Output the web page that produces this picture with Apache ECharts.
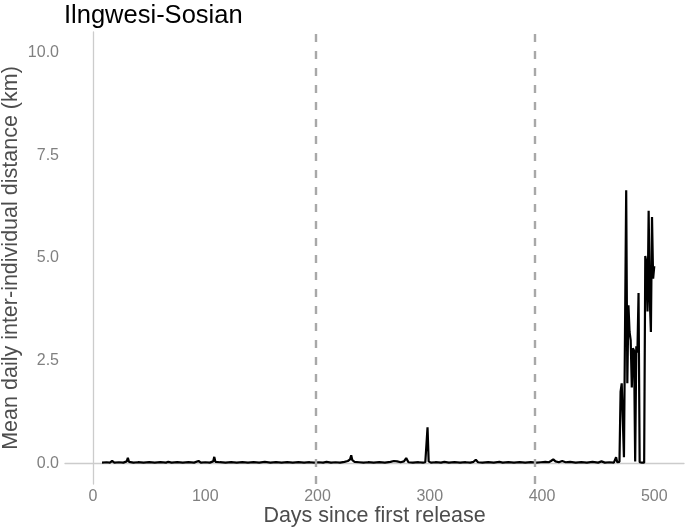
<!DOCTYPE html>
<html><head><meta charset="utf-8">
<script src="https://cdn.jsdelivr.net/npm/echarts@6/dist/echarts.min.js"></script>
<style>html,body{margin:0;padding:0;background:#fff}#c{width:685px;height:531px}</style>
</head><body><div id="c"></div>
<script>
const chartTitle = 'Ilngwesi-Sosian';
const xAxisTitle = 'Days since first release';
const yAxisTitle = 'Mean daily inter-individual distance (km)';

const days = [
  8,12,15,17,19,23,27,30,31,32,36,40,45,50,55,60,65,67,70,75,80,85,90,94,96,100,104,107,108,109,
  113,118,123,128,133,138,143,148,153,158,163,168,173,178,183,188,193,197,201,205,208,212,216,220,224,227,229,230,231,233,
  237,241,245,250,255,260,265,268,271,274,277,279,281,285,290,294,296,297,298,299,301,305,310,313,317,322,327,332,336,339,
  341,343,347,352,357,362,365,370,375,380,385,390,395,399,403,406,408,410,412,415,418,421,425,430,435,440,445,450,453,456,
  460,464,466,467,469,470,471,472,473,475,476,477,478,479,480,481,482,483,484,485,486,487,488,489,490,491,492,493,494,495,
  496,497,498,499,500
];
const distKm = [
  0.02,0.03,0.02,0.06,0.02,0.03,0.02,0.05,0.14,0.04,0.02,0.03,0.02,0.03,0.02,0.03,0.02,0.04,0.02,0.03,0.02,0.03,0.02,0.06,0.02,0.03,0.02,0.05,0.16,0.04,
  0.03,0.02,0.03,0.02,0.03,0.02,0.03,0.02,0.04,0.02,0.03,0.02,0.03,0.02,0.03,0.02,0.03,0.02,0.03,0.02,0.04,0.02,0.03,0.02,0.04,0.06,0.10,0.20,0.08,0.04,
  0.03,0.02,0.03,0.02,0.03,0.02,0.04,0.06,0.05,0.03,0.05,0.13,0.03,0.02,0.03,0.02,0.03,0.45,0.88,0.05,0.02,0.03,0.02,0.04,0.02,0.03,0.02,0.03,0.02,0.04,
  0.09,0.03,0.02,0.03,0.02,0.04,0.02,0.03,0.02,0.03,0.02,0.03,0.02,0.03,0.04,0.03,0.06,0.10,0.05,0.03,0.06,0.03,0.04,0.02,0.03,0.02,0.04,0.02,0.05,0.02,
  0.03,0.02,0.15,0.03,0.04,1.75,1.95,1.95,0.15,6.65,1.95,3.85,3.20,3.00,1.85,2.80,2.75,0.05,2.85,2.70,4.15,0.03,0.02,0.02,0.02,0.02,5.05,4.90,3.70,6.15,
  4.00,3.20,6.00,4.50,4.80
];
const releaseMarkers = [198.7, 393.4];
const xTicks = [0, 100, 200, 300, 400, 500];
const yTicks = [0, 2.5, 5, 7.5, 10];

const FONT = '"Liberation Sans", Arial, Helvetica, sans-serif';
const chart = echarts.init(document.getElementById('c'), null, {renderer: 'canvas'});
chart.setOption({
  animation: false,
  backgroundColor: '#ffffff',
  title: {
    text: chartTitle, left: 64, top: 3, padding: 0,
    textStyle: {fontFamily: FONT, fontSize: 25.5, fontWeight: 'normal', color: '#000000'}
  },
  grid: {left: 65, right: 1, top: 32, bottom: 47, outerBoundsMode: 'none'},
  xAxis: {
    type: 'value', min: -25, max: 526.5,
    name: xAxisTitle, nameLocation: 'middle', nameGap: 21, nameMoveOverlap: false,
    nameTextStyle: {fontFamily: FONT, fontSize: 21.5, color: '#4d4d4d', verticalAlign: 'top'},
    axisLine: {show: true, lineStyle: {color: '#cccccc', width: 1.3}},
    axisTick: {show: false},
    splitLine: {show: false},
    axisLabel: {customValues: xTicks, margin: 5, fontFamily: FONT, fontSize: 16, color: '#808080',
      formatter: v => String(v)}
  },
  yAxis: {
    type: 'value', min: -0.5, max: 10.5,
    name: yAxisTitle, nameLocation: 'middle', nameGap: 43, nameMoveOverlap: false,
    nameTextStyle: {fontFamily: FONT, fontSize: 21.5, color: '#4d4d4d'},
    axisLine: {show: true, lineStyle: {color: '#cccccc', width: 1.3}},
    axisTick: {show: false},
    splitLine: {show: false},
    axisLabel: {customValues: yTicks, margin: 6, fontFamily: FONT, fontSize: 16, color: '#808080',
      formatter: v => v.toFixed(1)}
  },
  series: [{
    type: 'line',
    data: days.map((d, i) => [d, distKm[i]]),
    showSymbol: false,
    symbol: 'none',
    lineStyle: {color: '#000000', width: 2.2},
    z: 3,
    markLine: {
      silent: true, symbol: 'none', label: {show: false},
      lineStyle: {color: '#a8a8a8', width: 2.4, type: [8, 9]},
      data: releaseMarkers.map(d => ({xAxis: d}))
    }
  }]
});
</script>
</body></html>
